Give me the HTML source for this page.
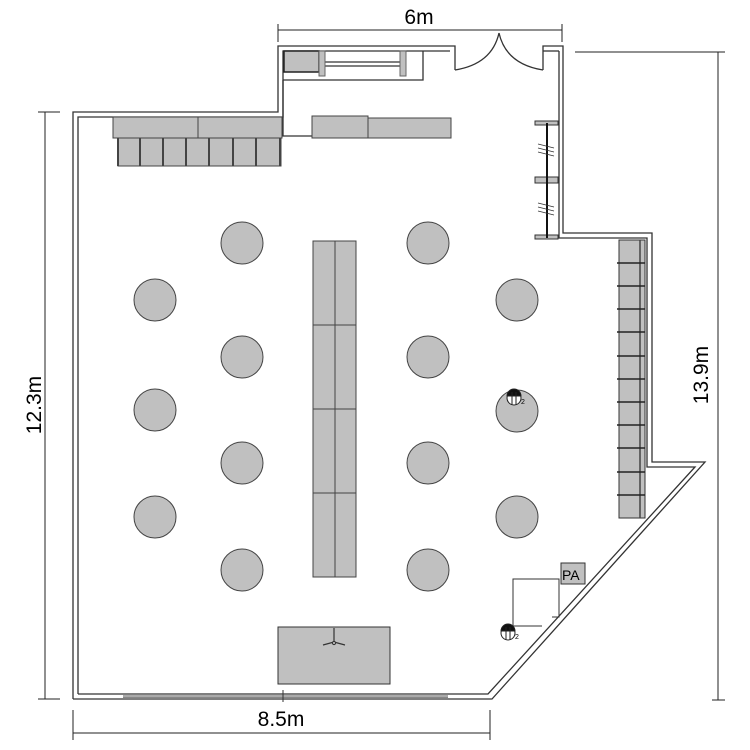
<!DOCTYPE html>
<html><head><meta charset="utf-8"><style>
html,body{margin:0;padding:0;background:#fff;}
svg{display:block;}
text{font-family:"Liberation Sans",sans-serif;fill:#000;}
</style></head><body>
<svg width="750" height="750" viewBox="0 0 750 750" xmlns="http://www.w3.org/2000/svg">
<g fill="none" stroke="#333" stroke-width="1.3">
<path d="M73,699 L73,112 L278,112 L278,46 L455,46 L455,70"/>
<path d="M78,694 L78,117 L283,117 L283,51 L450,51"/>
<path d="M543,70 L543,46 L563,46 L563,233 L652,233 L652,462 L705,462 L492,699 L73,699"/>
<path d="M559,51 L559,238 L647,238 L647,467 L695,467 L488,694 L78,694"/>
<line x1="543" y1="51" x2="559" y2="51"/>
<path d="M455,70 Q492,64 499,33" />
<path d="M543,70 Q506,64 499,33" />
<path d="M283,80 L423,80 L423,51"/>
<path d="M283,80 L283,136 L312,136"/>
<line x1="319" y1="62" x2="406" y2="62"/>
<line x1="319" y1="66" x2="406" y2="66"/>
</g>
<rect x="284" y="51" width="35" height="21" fill="#c0c0c0" stroke="#222" stroke-width="1.5"/>
<rect x="319" y="51" width="6" height="25" fill="#c0c0c0" stroke="#666"/>
<rect x="400" y="51" width="6" height="25" fill="#c0c0c0" stroke="#666"/>
<g fill="#c0c0c0" stroke="#444" stroke-width="1">
<rect x="312" y="116" width="56" height="22"/>
<rect x="368" y="118" width="83" height="20"/>
<rect x="113" y="117" width="85" height="21"/>
<rect x="198" y="117" width="84" height="21"/>
</g>
<rect x="118" y="138" width="163" height="28" fill="#c0c0c0" stroke="#444"/>
<g stroke="#444" stroke-width="2">
<line x1="118" y1="138" x2="118" y2="166"/><line x1="140" y1="138" x2="140" y2="166"/>
<line x1="163" y1="138" x2="163" y2="166"/><line x1="186" y1="138" x2="186" y2="166"/>
<line x1="209" y1="138" x2="209" y2="166"/><line x1="233" y1="138" x2="233" y2="166"/>
<line x1="256" y1="138" x2="256" y2="166"/><line x1="280" y1="138" x2="280" y2="166"/>
</g>
<g fill="#c0c0c0" stroke="#333" stroke-width="1">
<rect x="535" y="121" width="23" height="4"/>
<rect x="535" y="177" width="23" height="6"/>
<rect x="535" y="235" width="23" height="4"/>
</g>
<line x1="547" y1="123" x2="547" y2="238" stroke="#111" stroke-width="2"/>
<g stroke="#333" stroke-width="0.8">
<line x1="538" y1="144" x2="554" y2="148"/><line x1="538" y1="148" x2="554" y2="152"/><line x1="538" y1="152" x2="554" y2="156"/>
<line x1="538" y1="203" x2="554" y2="207"/><line x1="538" y1="207" x2="554" y2="211"/><line x1="538" y1="211" x2="554" y2="215"/>
</g>
<rect x="619" y="240" width="26" height="278" fill="#c0c0c0" stroke="#333"/>
<line x1="640" y1="240" x2="640" y2="518" stroke="#444" stroke-width="1.5"/>
<g stroke="#222" stroke-width="1.6">
<line x1="617" y1="263" x2="645" y2="263"/><line x1="617" y1="286" x2="645" y2="286"/>
<line x1="617" y1="309" x2="645" y2="309"/><line x1="617" y1="332" x2="645" y2="332"/>
<line x1="617" y1="356" x2="645" y2="356"/><line x1="617" y1="379" x2="645" y2="379"/>
<line x1="617" y1="402" x2="645" y2="402"/><line x1="617" y1="425" x2="645" y2="425"/>
<line x1="617" y1="448" x2="645" y2="448"/><line x1="617" y1="472" x2="645" y2="472"/>
<line x1="617" y1="495" x2="645" y2="495"/>
</g>
<g fill="#c0c0c0" stroke="#444" stroke-width="1">
<circle cx="242" cy="243" r="21"/><circle cx="428" cy="243" r="21"/>
<circle cx="155" cy="300" r="21"/><circle cx="517" cy="300" r="21"/>
<circle cx="242" cy="357" r="21"/><circle cx="428" cy="357" r="21"/>
<circle cx="155" cy="410" r="21"/><circle cx="517" cy="411" r="21"/>
<circle cx="242" cy="463" r="21"/><circle cx="428" cy="463" r="21"/>
<circle cx="155" cy="517" r="21"/><circle cx="517" cy="517" r="21"/>
<circle cx="242" cy="570" r="21"/><circle cx="428" cy="570" r="21"/>
</g>
<rect x="313" y="241" width="43" height="336" fill="#c0c0c0" stroke="#444"/>
<g stroke="#444"><line x1="335" y1="241" x2="335" y2="577"/>
<line x1="313" y1="325" x2="356" y2="325"/><line x1="313" y1="409" x2="356" y2="409"/><line x1="313" y1="493" x2="356" y2="493"/></g>
<g stroke="#222" stroke-width="1">
<circle cx="514" cy="398" r="7" fill="#fff"/>
<path d="M507,396 A7,7 0 0 1 521,396 Z" fill="#111"/>
<line x1="512" y1="392" x2="512" y2="405"/><line x1="516" y1="392" x2="516" y2="405"/>
<circle cx="508" cy="633" r="7" fill="#fff"/>
<path d="M501,631 A7,7 0 0 1 515,631 Z" fill="#111"/>
<line x1="506" y1="627" x2="506" y2="640"/><line x1="510" y1="627" x2="510" y2="640"/>
</g>
<text x="521" y="404" font-size="7">2</text>
<text x="515" y="639" font-size="7">2</text>
<path d="M513,626 L513,579 L559,579 L559,617 L552,617" fill="none" stroke="#333"/>
<path d="M513,626 L542,626" fill="none" stroke="#333"/>
<rect x="561" y="563" width="24" height="21" fill="#c0c0c0" stroke="#333"/>
<text x="562" y="580" font-size="14">PA</text>
<rect x="278" y="627" width="112" height="57" fill="#c0c0c0" stroke="#333"/>
<g stroke="#333" stroke-width="1.2" fill="none">
<line x1="334" y1="628" x2="334" y2="642"/>
<path d="M323,645 L334,642 L345,645"/>
<circle cx="334" cy="643" r="1.5" fill="#fff"/>
</g>
<line x1="123" y1="696" x2="448" y2="696" stroke="#555"/>
<line x1="123" y1="697.5" x2="448" y2="697.5" stroke="#888"/>
<line x1="283" y1="690" x2="283" y2="702" stroke="#333"/>
<g stroke="#222" stroke-width="1">
<line x1="278" y1="30" x2="562" y2="30"/><line x1="278" y1="24" x2="278" y2="42"/><line x1="562" y1="24" x2="562" y2="42"/>
<line x1="718" y1="52" x2="718" y2="700"/><line x1="575" y1="52" x2="725" y2="52"/><line x1="712" y1="700" x2="725" y2="700"/>
<line x1="45" y1="112" x2="45" y2="699"/><line x1="38" y1="112" x2="60" y2="112"/><line x1="38" y1="699" x2="60" y2="699"/>
<line x1="73" y1="733" x2="490" y2="733"/><line x1="73" y1="710" x2="73" y2="740"/><line x1="490" y1="710" x2="490" y2="740"/>
</g>
<text x="419" y="24" font-size="21" text-anchor="middle">6m</text>
<text x="281" y="726" font-size="21" text-anchor="middle">8.5m</text>
<text transform="translate(41,405) rotate(-90)" font-size="21" text-anchor="middle">12.3m</text>
<text transform="translate(708,375) rotate(-90)" font-size="21" text-anchor="middle">13.9m</text>
</svg>
</body></html>
